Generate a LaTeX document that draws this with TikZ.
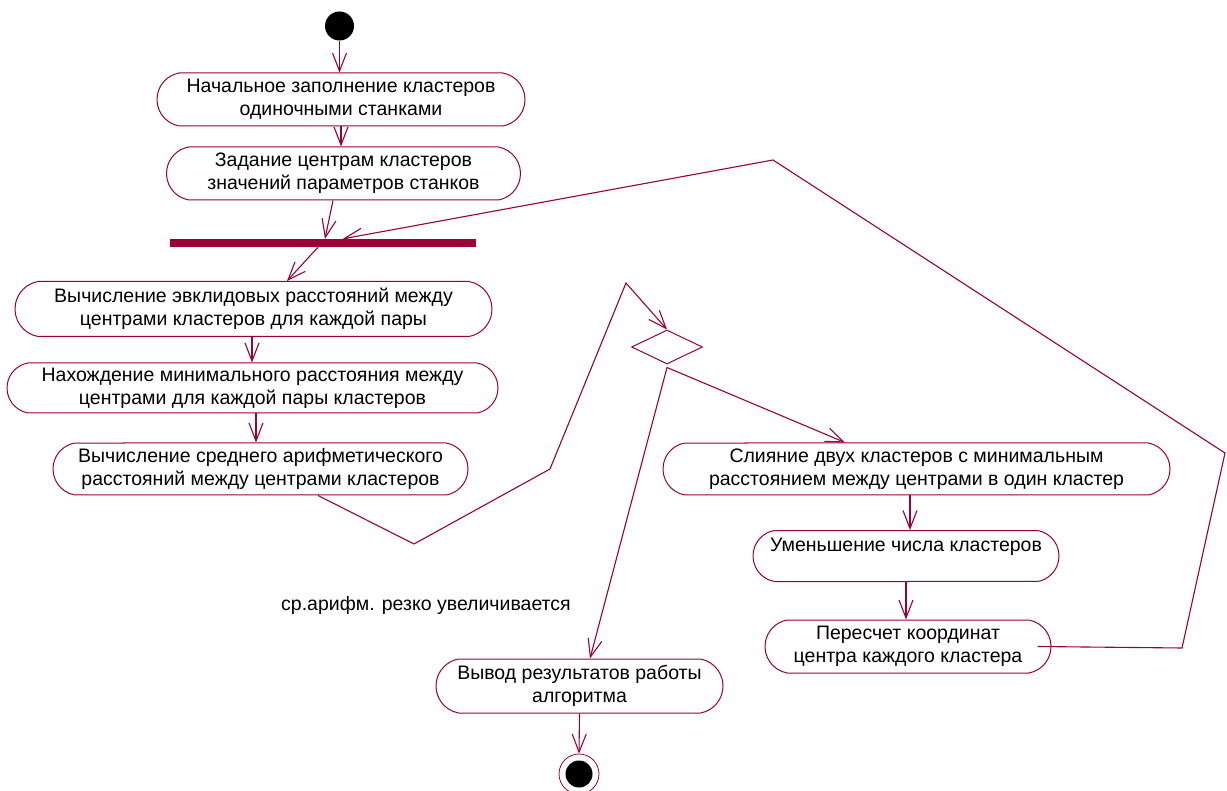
\documentclass[tikz,border=0pt]{standalone}
\usepackage{fontspec}
\setmainfont{Liberation Sans}
\usetikzlibrary{shapes.misc,shapes.geometric,arrows.meta}
\definecolor{umlred}{RGB}{155,0,55}
\begin{document}
\begin{tikzpicture}[x=1pt,y=-1pt,
  act/.style={rounded rectangle, rounded rectangle arc length=160, draw=umlred, line width=1pt,
    inner sep=0pt, align=center, font=\fontsize{19.5}{23}\selectfont},
  flow/.style={draw=umlred, line width=1.1pt, line join=miter, -{Straight Barb[length=18pt,width=14pt]}},
  syncbar/.style={rectangle, fill=umlred, minimum width=306pt, minimum height=8pt, inner sep=0pt},
  decision/.style={diamond, draw=umlred, line width=1pt, minimum width=71pt, minimum height=34pt, inner sep=0pt},
  initial/.style={circle, fill=black, minimum size=29pt, inner sep=0pt},
  final/.style={circle, draw=umlred, line width=0.8pt, fill=white, minimum size=40pt, inner sep=0pt,
    path picture={\fill[black] (path picture bounding box.center) circle (13.5pt);}},
  guard/.style={font=\fontsize{19.5}{23}\selectfont, inner sep=0pt}
]
\useasboundingbox (0,0) rectangle (1227,791);

\node[initial] (s) at (339.5,26) {};
\node[act, minimum width=368pt, minimum height=53pt] (a1) at (341,99.5) {Начальное заполнение кластеров\\одиночными станками};
\node[act, minimum width=354pt, minimum height=53pt] (a2) at (343.5,173.5) {Задание центрам кластеров\\значений параметров станков};
\node[syncbar] (bar) at (323,243) {};
\node[act, minimum width=477pt, minimum height=55pt] (a3) at (253.5,309) {Вычисление эвклидовых расстояний между\\центрами кластеров для каждой пары};
\node[act, minimum width=491pt, minimum height=50pt] (a4) at (252.5,388) {Нахождение минимального расстояния между\\центрами для каждой пары кластеров};
\node[act, minimum width=415pt, minimum height=52pt] (a5) at (260.5,469) {Вычисление среднего арифметического\\расстояний между центрами кластеров};
\node[decision] (d) at (667,347) {};
\node[act, minimum width=507pt, minimum height=52pt] (a6) at (916.5,469) {Слияние двух кластеров с минимальным\\расстоянием между центрами в один кластер};
\node[act, minimum width=306pt, minimum height=51pt] (a7) at (906,556) {Уменьшение числа кластеров\\\mbox{}};
\node[act, minimum width=286pt, minimum height=53pt] (a8) at (908,646.5) {Пересчет координат\\центра каждого кластера};
\node[act, minimum width=287pt, minimum height=54pt] (a9) at (579.5,686) {Вывод результатов работы\\алгоритма};
\node[final] (f) at (579,774) {};
\node[guard, anchor=west] (g) at (281,605) {ср.арифм. резко увеличивается};

\draw[flow] (s.south) -- (s.south |- a1.north);
\draw[flow] (a1.south) -- (a1.south |- a2.north);
\draw[flow] ([xshift=-10.5pt]a2.south) -- ([xshift=2pt]bar.north);
\draw[flow] ([xshift=-5pt]bar.south) -- ([xshift=33.5pt]a3.north);
\draw[flow] ([xshift=-1.5pt]a3.south) -- ([xshift=-1.5pt]a3.south |- a4.north);
\draw[flow] ([xshift=3.5pt]a4.south) -- ([xshift=3.5pt]a4.south |- a5.north);
\draw[flow] ([xshift=57.5pt]a5.south) -- (414,544) -- (550,469) -- (626,283) -- (d.north);
\draw[flow] ([yshift=-3pt]d.south) -- ([xshift=-71.5pt]a6.north);
\draw[flow] ([yshift=-3pt]d.south) -- ([xshift=10.5pt]a9.north);
\draw[flow] ([xshift=-6.5pt]a6.south) -- ([xshift=-6.5pt]a6.south |- a7.north);
\draw[flow] (a7.south) -- (a7.south |- a8.north);
\draw[flow] (a9.south) -- (f.north);
\draw[flow] ([xshift=-14pt]a8.east) -- (1182,648) -- (1225,453) -- (773,160) -- ([xshift=20pt]bar.north);
\end{tikzpicture}
\end{document}
